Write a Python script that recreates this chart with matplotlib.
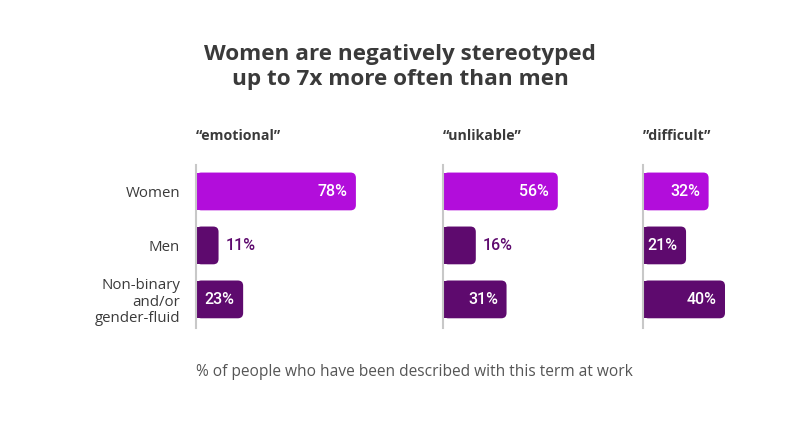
import matplotlib.pyplot as plt
from matplotlib.patches import FancyBboxPatch, Rectangle

plt.switch_backend('Agg')

# data
groups = ["Women", "Men", "Non-binary\nand/or\ngender-fluid"]
terms = ["\u201cemotional\u201d", "\u201cunlikable\u201d", "\u201ddifficult\u201d"]
emotional = [78, 11, 23]
unlikable = [56, 16, 31]
difficult = [32, 21, 40]
values = [emotional, unlikable, difficult]

title = "Women are negatively stereotyped\nup to 7x more often than men"
note = "% of people who have been described with this term at work"

C_WOMEN = "#b20ddb"
C_OTHER = "#5e0a6e"
TXT = "#3a3a3a"
FONT = "Open Sans"
VFONT = "Roboto"

W, H = 800, 442
fig = plt.figure(figsize=(W / 100, H / 100), dpi=100)
fig.patch.set_facecolor("white")

PX_PER_PCT = 2.05
panel_left = [196, 443, 643]
panel_xmax = [80, 80, 70]
ax_top, ax_bot = 165, 328

fig.text(0.5, 1 - 67 / H, title, ha="center", va="center", fontsize=16.2,
         fontweight="bold", color=TXT, family=FONT, linespacing=1.2)

for k, (vals, term) in enumerate(zip(values, terms)):
    left = panel_left[k]
    width = panel_xmax[k] * PX_PER_PCT
    ax = fig.add_axes([left / W, 1 - ax_bot / H, width / W, (ax_bot - ax_top) / H])
    ax.set_xlim(0, panel_xmax[k])
    ax.set_ylim(2.53, -0.49)
    for s in ["top", "right", "bottom"]:
        ax.spines[s].set_visible(False)
    ax.spines["left"].set_color("#c8c8c8")
    ax.spines["left"].set_linewidth(1.5)
    ax.set_xticks([])
    ax.set_yticks(range(len(groups)))
    if k == 0:
        ax.set_yticklabels(groups, fontsize=10.8, color=TXT, family=FONT,
                           linespacing=1.15)
        ax.tick_params(axis="y", length=0, pad=11.5)
        for lab in ax.get_yticklabels():
            lab.set_horizontalalignment("right")
    else:
        ax.set_yticklabels([])
        ax.tick_params(axis="y", length=0)

    ax.text(0, -1.03, term, ha="left", va="center", fontsize=10.2,
            fontweight="bold", color=TXT, family=FONT, clip_on=False)

    bh = 0.7
    # radius in data units (x) and aspect correction for y
    rx = 2.6
    aspect = (1 / 54) / (1 / PX_PER_PCT)
    for i, v in enumerate(vals):
        col = C_WOMEN if i == 0 else C_OTHER
        bar = FancyBboxPatch((0, i - bh / 2), v, bh,
                             boxstyle="round,pad=0,rounding_size=%f" % rx,
                             mutation_aspect=aspect, fc=col, ec="none",
                             clip_on=False, zorder=2)
        ax.add_patch(bar)
        ax.add_patch(Rectangle((0, i - bh / 2), rx * 1.5, bh, fc=col,
                               ec="none", clip_on=False, zorder=2))
        label = "%d%%" % v
        if v >= 20:
            ax.text(v - 4.2, i, label, ha="right", va="center", fontsize=11.5,
                    fontweight="medium", color="white", family=VFONT,
                    clip_on=False, zorder=3)
        else:
            ax.text(v + 3.4, i, label, ha="left", va="center", fontsize=11.5,
                    fontweight="medium", color=C_OTHER, family=VFONT,
                    clip_on=False, zorder=3)

fig.text(196 / W, 1 - 372 / H, note, ha="left", va="center", fontsize=11.2,
         color="#555555", family=FONT)

fig.savefig("out.png", dpi=100)
plt.close()
